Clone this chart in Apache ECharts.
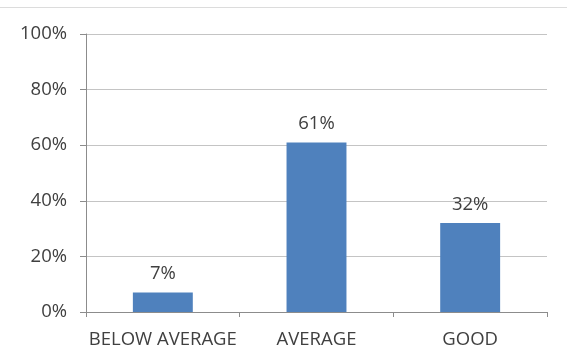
<!DOCTYPE html>
<html>
<head>
<meta charset="utf-8">
<script src="https://cdn.jsdelivr.net/npm/echarts@6/dist/echarts.min.js"></script>
<style>
  html, body { margin: 0; padding: 0; background: #fff; }
  #chart { width: 567px; height: 352px; }
  #rule { position: absolute; left: 0; top: 7px; width: 567px; height: 1px; background: #dcdcdc; }
</style>
</head>
<body>
<div id="rule"></div>
<div id="chart"></div>
<script>
const categories = ['BELOW AVERAGE', 'AVERAGE', 'GOOD'];
const values = [7, 61, 32];
const yTicks = [0, 20, 40, 60, 80, 100];

const chart = echarts.init(document.getElementById('chart'), null, { renderer: 'canvas' });
const font = '"Open Sans", "Noto Sans", sans-serif';

chart.setOption({
  animation: false,
  grid: { left: 86, right: 20, top: 34, bottom: 40, containLabel: false },
  xAxis: {
    type: 'category',
    data: categories,
    axisLine: { lineStyle: { color: '#8c8c8c', width: 1 } },
    axisTick: { show: true, alignWithLabel: false, length: 5, lineStyle: { color: '#8c8c8c' } },
    axisLabel: {
      color: '#404040', fontSize: 18.5, fontFamily: font, margin: 18,
      interval: 0, hideOverlap: false
    }
  },
  yAxis: {
    type: 'value',
    min: yTicks[0],
    max: yTicks[yTicks.length - 1],
    interval: 20,
    axisLine: { show: true, lineStyle: { color: '#8c8c8c', width: 1 } },
    axisTick: { show: true, length: 6, lineStyle: { color: '#8c8c8c' } },
    splitLine: { lineStyle: { color: '#c4c4c4', width: 1 } },
    axisLabel: { color: '#404040', fontSize: 18.5, fontFamily: font, margin: 19, formatter: v => v + '%' }
  },
  series: [{
    type: 'bar',
    data: values,
    barWidth: '39%',
    itemStyle: { color: '#4f81bd' },
    label: {
      show: true,
      position: 'top',
      distance: 9,
      color: '#404040',
      fontSize: 18.5,
      fontFamily: font,
      formatter: p => p.value + '%'
    }
  }]
});
</script>
</body>
</html>
